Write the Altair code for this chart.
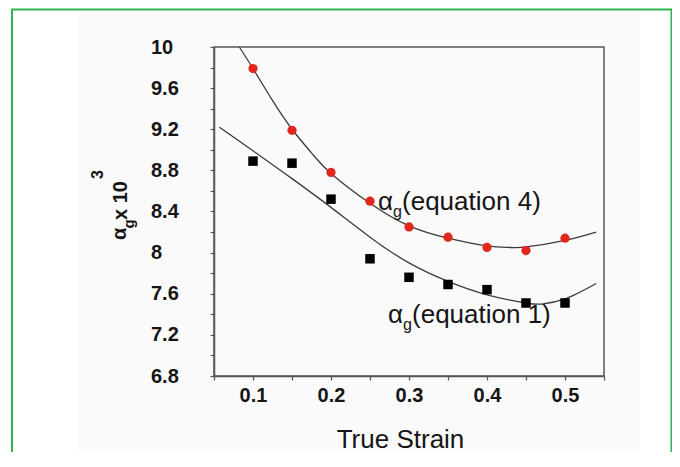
import altair as alt
import pandas as pd

# measured points
strain = [0.10, 0.15, 0.20, 0.25, 0.30, 0.35, 0.40, 0.45, 0.50]
alpha_eq4 = [9.79, 9.19, 8.78, 8.50, 8.25, 8.15, 8.05, 8.02, 8.14]
alpha_eq1 = [8.89, 8.87, 8.52, 7.94, 7.76, 7.69, 7.64, 7.51, 7.51]

# fitted curves
fit4_x = [0.0825, 0.10, 0.125, 0.15, 0.175, 0.20, 0.25, 0.30, 0.35, 0.40, 0.43, 0.45, 0.50, 0.54]
fit4_y = [10.0, 9.79, 9.48, 9.20, 8.97, 8.77, 8.48, 8.26, 8.14, 8.065, 8.05, 8.055, 8.12, 8.20]
fit1_x = [0.057, 0.10, 0.15, 0.20, 0.25, 0.30, 0.35, 0.40, 0.45, 0.47, 0.50, 0.54]
fit1_y = [9.22, 8.99, 8.72, 8.44, 8.15, 7.90, 7.72, 7.59, 7.51, 7.50, 7.55, 7.70]

x_ticks = [0.05, 0.10, 0.15, 0.20, 0.25, 0.30, 0.35, 0.40, 0.45, 0.50, 0.55]
y_ticks = [6.8, 7.0, 7.2, 7.4, 7.6, 7.8, 8.0, 8.2, 8.4, 8.6, 8.8, 9.0, 9.2, 9.4, 9.6, 9.8, 10.0]

FONT = "Liberation Sans"
AX = "#555555"
TXT = "#151515"

pts = pd.DataFrame({"x": strain, "eq4": alpha_eq4, "eq1": alpha_eq1})
f4 = pd.DataFrame({"x": fit4_x, "y": fit4_y})
f1 = pd.DataFrame({"x": fit1_x, "y": fit1_y})
one = pd.DataFrame({"k": [0]})

xs = alt.Scale(domain=[0.05, 0.55], nice=False, zero=False)
ys = alt.Scale(domain=[6.8, 10.0], nice=False, zero=False)

xaxis = alt.Axis(
    values=x_ticks,
    labelExpr="(round(datum.value*100) % 10 == 0) ? format(datum.value, '.1f') : ''",
    title="True Strain", titleFont=FONT, titleFontSize=26, titleFontWeight="normal",
    titleColor=TXT, titleX=186, titleY=71, titleBaseline="alphabetic", titleAlign="center",
    labelFont=FONT, labelFontSize=20, labelFontWeight="bold", labelColor=TXT,
    labelAlign="center", labelBaseline="top",
    labelPadding=5, tickSize=4, tickColor=AX, domainColor=AX, tickWidth=1.2, domainWidth=1.5,
    grid=False, labelOverlap=False, labelFlush=False, zindex=1,
)
yaxis = alt.Axis(
    values=y_ticks,
    labelExpr="abs((datum.value-6.8)/0.4 - round((datum.value-6.8)/0.4)) < 0.01 ? format(datum.value, '.2~f') : ''",
    title=None,
    labelFont=FONT, labelFontSize=20, labelFontWeight="bold", labelColor=TXT,
    labelAlign="left", labelBaseline="middle", labelPadding=59.5,
    tickSize=4, tickColor=AX, domainColor=AX, tickWidth=1.2, domainWidth=1.5,
    grid=False, labelOverlap=False, labelFlush=False, zindex=1,
)

# white strips outside the (slightly grey) figure area
white_l = alt.Chart(one).mark_rect(fill="white").encode(
    x=alt.value(-210), x2=alt.value(-136), y=alt.value(-45), y2=alt.value(460))
white_r = alt.Chart(one).mark_rect(fill="white").encode(
    x=alt.value(426), x2=alt.value(470), y=alt.value(-45), y2=alt.value(460))
border = alt.Chart(one).mark_rect(filled=False, stroke="#2fb552", strokeWidth=2).encode(
    x=alt.value(-202), x2=alt.value(457.5), y=alt.value(-37.5), y2=alt.value(460))

line4 = alt.Chart(f4).mark_line(interpolate="natural", color="#3c3c3c", strokeWidth=1.3).encode(
    x=alt.X("x:Q", scale=xs, axis=xaxis), y=alt.Y("y:Q", scale=ys, axis=yaxis))
line1 = alt.Chart(f1).mark_line(interpolate="natural", color="#3c3c3c", strokeWidth=1.3).encode(
    x=alt.X("x:Q", scale=xs, axis=xaxis), y=alt.Y("y:Q", scale=ys, axis=yaxis))
red = alt.Chart(pts).mark_point(shape="circle", filled=True, size=85, color="#e2261c", opacity=1).encode(
    x=alt.X("x:Q", scale=xs, axis=xaxis), y=alt.Y("eq4:Q", scale=ys, axis=yaxis))
black = alt.Chart(pts).mark_point(shape="square", filled=True, size=90, color="#000000", opacity=1).encode(
    x=alt.X("x:Q", scale=xs, axis=xaxis), y=alt.Y("eq1:Q", scale=ys, axis=yaxis))

# annotation anchors (data coordinates)
ann = pd.DataFrame({"x": [0.2603, 0.2731], "y": [8.414, 7.315], "num": ["(equation 4)", "(equation 1)"]})

def ann_layer(text_field=None, text_value=None, size=26, dx=0, dy=0):
    enc = dict(x=alt.X("x:Q", scale=xs, axis=xaxis), y=alt.Y("y:Q", scale=ys, axis=yaxis))
    if text_field:
        enc["text"] = alt.Text(text_field)
    else:
        enc["text"] = alt.value(text_value)
    return alt.Chart(ann).mark_text(font=FONT, fontSize=size, align="left", baseline="alphabetic",
                                    color=TXT, dx=dx, dy=dy).encode(**enc)

a_alpha = ann_layer(text_value="α", size=26)
a_g = ann_layer(text_value="g", size=16, dx=15, dy=7)
a_num = ann_layer(text_field="num:N", size=26, dx=24)

def ytitle(txt, size, xv, yv):
    return alt.Chart(one).mark_text(font=FONT, fontSize=size, fontWeight="bold", align="left",
                                    baseline="alphabetic", angle=270, color=TXT, text=txt
                                    ).encode(x=alt.value(xv), y=alt.value(yv))

yt = [
    ytitle("α", 20, -88, 193),
    ytitle("g", 15, -80, 181.5),
    ytitle(" x 10", 20, -87, 173),
    ytitle("3", 16, -111, 132),
]

chart = alt.layer(white_l, white_r, border, line4, line1, red, black, a_alpha, a_g, a_num, *yt).properties(
    width=390, height=329,
    autosize=alt.AutoSizeParams(type="none"),
    padding={"left": 206, "top": 39, "right": 68, "bottom": 76},
    background="#fafafa",
).configure_view(stroke=AX, strokeWidth=1.5)

chart.save("out.html", embed_options={"renderer": "svg", "actions": False})
